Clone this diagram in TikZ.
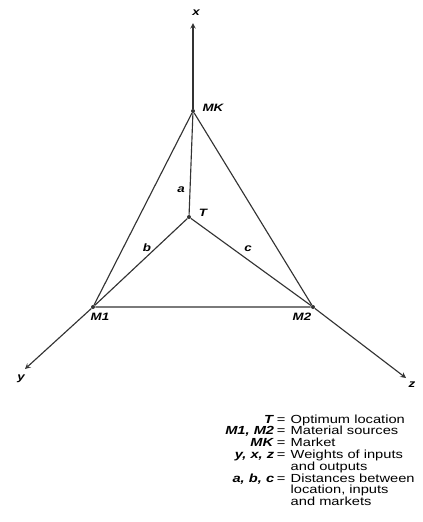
\documentclass[tikz,border=0pt]{standalone}
\usepackage{fontspec}
\setmainfont[FakeStretch=1.25]{Liberation Sans}
\usetikzlibrary{positioning}

\begin{document}
\begin{tikzpicture}[
    x=0.75pt, y=-0.75pt,
    axis/.style={
        draw=black!80,
        line width=0.85pt,
        ->,
        >=stealth
    },
    edge/.style={
        draw=black!80,
        line width=0.85pt
    },
    pt/.style={
        circle,
        fill=black!80,
        inner sep=0pt,
        minimum size=3pt
    },
    lbl/.style={
        font=\fontsize{8}{8}\selectfont\bfseries\itshape,
        inner sep=1pt
    },
    legend/.style={
        font=\fontsize{8.8}{8.3}\selectfont,
        inner sep=0pt,
        align=left
    }
]

    \useasboundingbox (0,0) rectangle (422,522);

    % ==========================================
    % POINTS
    % ==========================================

    \node[pt] (MK) at (193,111) {};
    \node[pt] (T) at (189,217) {};
    \node[pt] (M1) at (93,307) {};
    \node[pt] (M2) at (313,307) {};

    % Axis ends
    \coordinate (XEnd) at (193,23);
    \coordinate (YEnd) at (25,369);
    \coordinate (ZEnd) at (406,378);

    % ==========================================
    % LINES
    % ==========================================

    % Weight axes
    \draw[axis] (MK) -- (XEnd);
    \draw[axis] (M1) -- (YEnd);
    \draw[axis] (M2) -- (ZEnd);

    % Location triangle
    \draw[edge] (MK) -- (M1) -- (M2) -- (MK);

    % Distances from T
    \draw[edge] (T) -- (MK);
    \draw[edge] (T) -- (M1);
    \draw[edge] (T) -- (M2);

    % ==========================================
    % LABELS
    % ==========================================

    \node[lbl] (XLbl) at (196,13) {x};
    \node[lbl] (YLbl) at (21,379) {y};
    \node[lbl] (ZLbl) at (412,385) {z};

    \node[lbl] (MKLbl) at (213,108) {MK};
    \node[lbl] (TLbl) at (203,213) {T};
    \node[lbl] (M1Lbl) at (100,317) {M1};
    \node[lbl] (M2Lbl) at (302,317) {M2};

    \node[lbl] (ALbl) at (181,190) {a};
    \node[lbl] (BLbl) at (147,248) {b};
    \node[lbl] (CLbl) at (248,249) {c};

    % Key
    \node[legend, anchor=base west] (Key) at (225,423) {%
        \begin{tabular}[t]{@{}r@{\hspace{2pt}=\hspace{4pt}}l@{}}
            \textbf{\textit{T}} & Optimum location\\
            \textbf{\textit{M1, M2}} & Material sources\\
            \textbf{\textit{MK}} & Market\\
            \textbf{\textit{y, x, z}} & Weights of inputs\\
            \multicolumn{1}{@{}r@{\hspace{2pt}\phantom{=}\hspace{4pt}}}{} & and outputs\\
            \textbf{\textit{a, b, c}} & Distances between\\
            \multicolumn{1}{@{}r@{\hspace{2pt}\phantom{=}\hspace{4pt}}}{} & location, inputs\\
            \multicolumn{1}{@{}r@{\hspace{2pt}\phantom{=}\hspace{4pt}}}{} & and markets
        \end{tabular}};

\end{tikzpicture}
\end{document}
